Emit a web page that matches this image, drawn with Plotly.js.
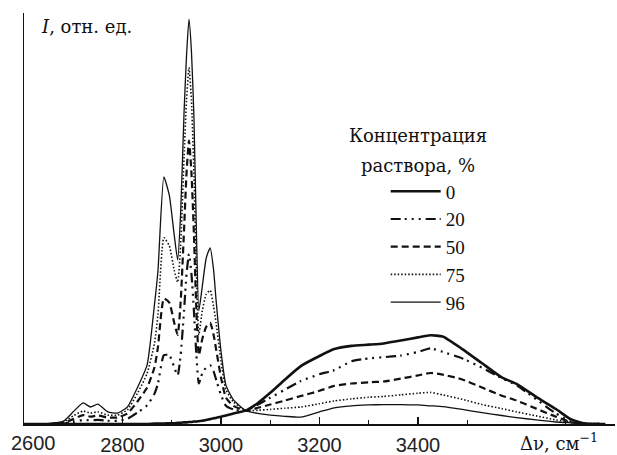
<!DOCTYPE html>
<html>
<head>
<meta charset="utf-8">
<script src="https://cdn.plot.ly/plotly-3.0.1.min.js"></script>
<style>html,body{margin:0;padding:0;background:#fff;}#chart{width:617px;height:455px;}</style>
</head>
<body>
<div id="chart"></div>
<script>
// Raman shift, cm^-1
const wavenumber = [2600, 2650, 2680, 2700, 2720, 2735, 2750, 2770, 2790, 2810, 2830, 2850, 2865, 2872, 2884, 2895, 2905, 2912, 2918, 2925, 2930, 2935, 2940, 2945, 2950, 2955, 2962, 2970, 2978, 2985, 2990, 3000, 3010, 3025, 3050, 3075, 3100, 3130, 3162, 3200, 3230, 3265, 3300, 3330, 3365, 3400, 3425, 3450, 3490, 3530, 3570, 3600, 3640, 3680, 3710, 3740, 3780];

// Intensity, relative units, per solution concentration (%)
const conc0  = [0, 0, 0, 0, 0, 0, 0, 0, 0, 0, 0, 0, 0.1, 0.1, 0.1, 0.2, 0.2, 0.3, 0.3, 0.4, 0.4, 0.5, 0.5, 0.6, 0.6, 0.7, 0.8, 1.0, 1.2, 1.4, 1.5, 1.8, 2.1, 2.6, 3.3, 5.2, 7.7, 11.0, 14.3, 16.8, 18.5, 19.3, 19.6, 19.9, 20.6, 21.4, 21.9, 21.6, 18.5, 15.0, 11.5, 9.9, 6.7, 3.7, 1.2, 0.1, 0];
const conc20 = [0, 0, 0.1, 0.5, 1.0, 0.9, 1.0, 0.8, 0.8, 1.3, 2.8, 4.6, 7.5, 10, 17, 17, 14, 12, 17, 28, 37, 42, 37, 28, 17, 10, 12.5, 14, 14.5, 13, 11, 7.2, 4.5, 3.6, 3.3, 4.8, 6.5, 8.5, 10.6, 12.3, 13.3, 15.5, 16.2, 16.5, 16.9, 17.8, 18.7, 17.8, 16.2, 13.9, 11.3, 9.6, 6.1, 2.6, 0.7, 0.1, 0];
const conc50 = [0, 0, 0.3, 1.2, 2.2, 1.8, 2.1, 1.6, 1.6, 2.6, 5.5, 9, 14, 19, 31, 30, 25, 22, 30, 48, 62, 70, 62, 47, 28, 17, 21, 24, 25, 22, 18.5, 11.5, 6.5, 4.5, 3.3, 4.0, 4.8, 5.8, 6.9, 8.2, 9.4, 10.0, 10.3, 10.5, 11.2, 12.0, 12.6, 12.2, 11.0, 9.0, 7.0, 5.8, 3.8, 1.8, 0.5, 0.1, 0];
const conc75 = [0, 0.1, 0.5, 2.0, 3.2, 2.7, 3.0, 2.2, 2.2, 3.5, 7.5, 12.5, 20, 27, 46, 44, 38, 35, 44, 66, 80, 88, 80, 62, 38, 22, 28, 32, 33, 29, 25, 15.5, 8.5, 5.5, 3.3, 3.4, 3.6, 3.9, 4.2, 5.0, 5.7, 6.2, 6.6, 6.8, 7.2, 7.6, 7.8, 7.2, 6.1, 4.8, 3.8, 3.0, 2.0, 1.0, 0.4, 0.1, 0];
const conc96 = [0, 0.1, 0.7, 3, 5.2, 4.2, 4.9, 3, 2.7, 4.2, 8.9, 14.6, 29.6, 37.8, 61, 56.5, 46.7, 40.5, 52, 77, 91, 100, 92, 76, 48, 28, 34, 41, 43.5, 38, 30.6, 18, 9.6, 6, 3.3, 2.6, 2.2, 1.9, 1.7, 3.0, 4.0, 4.5, 4.7, 4.8, 4.8, 4.7, 4.5, 4.3, 3.6, 2.8, 2.1, 1.6, 1.0, 0.5, 0.3, 0.1, 0];

const seriesNames = ['0', '20', '50', '75', '96'];
const labelTicks = [2800, 3000, 3200, 3400];
const labelTickText = ['2800', '3000', '3200', '3400'];
const firstTickValue = 2600;
const firstTickText = '2600';
const extraMajorTicks = [2600, 3600, 3800];
const minorTicks = [2700, 2900, 3100, 3300, 3500, 3700];

const serif = 'DejaVu Serif';
const tickFont = {family: 'Liberation Sans', size: 20, color: '#222'};
const styles = [
  {width: 2.6, dash: 'solid'},
  {width: 2.2, dash: '10px,4px,2px,5px,2px,5px,2px,5px'},
  {width: 2.2, dash: '7px,4px'},
  {width: 1.6, dash: '1.5px,2px'},
  {width: 1.3, dash: 'solid'}
];
const values = [conc0, conc20, conc50, conc75, conc96];

const traces = values.map((v, i) => ({
  x: wavenumber, y: v, type: 'scatter', mode: 'lines',
  name: seriesNames[i],
  line: {color: '#111', width: styles[i].width, dash: styles[i].dash, shape: 'spline', smoothing: 0.5}
}));

const layout = {
  width: 617, height: 455,
  margin: {l: 24, r: 2, t: 13, b: 31},
  paper_bgcolor: '#fff', plot_bgcolor: '#fff',
  showlegend: true,
  legend: {
    x: 0.612, xanchor: 'left', y: 0.612, yanchor: 'top',
    font: {family: 'Liberation Serif', size: 19, color: '#111'},
    bgcolor: 'rgba(0,0,0,0)', itemwidth: 50, tracegroupgap: 0
  },
  xaxis: {
    range: [2600, 3800], showgrid: false, zeroline: false,
    showline: true, linecolor: '#111', linewidth: 1.5,
    tickmode: 'array', tickvals: labelTicks, ticktext: labelTickText,
    ticks: 'inside', ticklen: 7, tickwidth: 1.3, tickcolor: '#111',
    ticklabelstandoff: 2,
    tickfont: tickFont,
    minor: {tickvals: minorTicks, ticks: 'inside', ticklen: 4, tickwidth: 1.3, tickcolor: '#111'}
  },
  xaxis2: {
    range: [2600, 3800], overlaying: 'x', anchor: 'y', side: 'bottom',
    showgrid: false, zeroline: false, showline: false, showticklabels: false,
    tickmode: 'array', tickvals: extraMajorTicks,
    ticks: 'inside', ticklen: 7, tickwidth: 1.3, tickcolor: '#111'
  },
  yaxis: {
    range: [0, 101.5], showgrid: false, zeroline: false,
    showline: true, linecolor: '#111', linewidth: 1.5,
    showticklabels: false, ticks: ''
  },
  annotations: [
    {xref: 'x', yref: 'paper', x: firstTickValue, y: -0.047, xanchor: 'left', yanchor: 'middle', xshift: -15,
     text: firstTickText, showarrow: false, font: tickFont},
    {xref: 'paper', yref: 'paper', x: 0.025, y: 0.966, xanchor: 'left', yanchor: 'middle',
     text: '<i>I</i>, отн. ед.', showarrow: false, font: {family: serif, size: 18, color: '#111'}},
    {xref: 'paper', yref: 'paper', x: 0.836, y: -0.045, xanchor: 'left', yanchor: 'middle',
     text: 'Δν, см<sup>−1</sup>', showarrow: false, font: {family: serif, size: 18, color: '#111'}},
    {xref: 'paper', yref: 'paper', x: 0.667, y: 0.703, xanchor: 'center', yanchor: 'middle',
     text: 'Концентрация', showarrow: false, font: {family: serif, size: 18, color: '#111'}},
    {xref: 'paper', yref: 'paper', x: 0.667, y: 0.630, xanchor: 'center', yanchor: 'middle',
     text: 'раствора, %', showarrow: false, font: {family: serif, size: 18, color: '#111'}}
  ]
};

Plotly.newPlot('chart', traces, layout, {staticPlot: true, displayModeBar: false});
</script>
</body>
</html>
